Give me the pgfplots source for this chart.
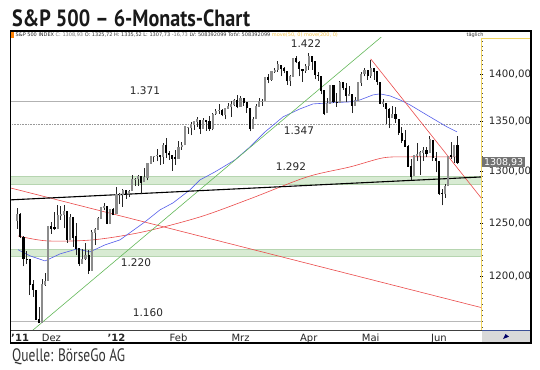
\documentclass[border=0pt]{standalone}
\usepackage{fontspec}
\setmainfont{DejaVu Sans}
\newfontfamily\ptsans{PT Sans}
\usepackage{graphicx}
\usepackage{pgfplots}
\usepackage{pgfplotstable}
\pgfplotsset{compat=1.18}

\definecolor{bandfill}{RGB}{216,235,211}
\definecolor{bandedge}{RGB}{182,213,176}
\definecolor{maBlue}{RGB}{85,95,235}
\definecolor{maRed}{RGB}{235,75,75}
\definecolor{trGreen}{RGB}{100,185,90}
\definecolor{yel}{RGB}{240,212,95}
\definecolor{upgray}{RGB}{140,140,140}
\definecolor{rowblue}{RGB}{60,80,150}

\pgfplotsset{
  wick/.style={black!85, line width=0.55pt},
  upbody/.style={upgray, line width=2.1pt, line cap=butt},
  dnbody/.style={black, line width=2.1pt, line cap=butt},
}

% trading-day index k: 0 = 25 Nov 2011
\pgfplotstableread{
k o h l c
-7 1251.70 1264.25 1244.34 1257.81
-6 1257.81 1259.61 1235.67 1236.91
-5 1236.56 1237.73 1209.43 1216.13
-4 1216.19 1223.51 1211.36 1215.65
-3 1215.62 1215.62 1183.16 1192.98
-2 1192.98 1196.81 1181.65 1188.04
-1 1187.48 1187.48 1161.79 1161.79
0 1161.41 1172.66 1158.66 1158.67
1 1158.67 1197.35 1158.67 1192.55
2 1192.56 1203.67 1191.80 1195.19
3 1196.72 1247.11 1196.72 1246.96
4 1246.91 1251.09 1239.73 1244.58
5 1246.03 1260.08 1243.35 1244.28
6 1244.33 1266.73 1244.33 1257.08
7 1257.19 1266.03 1253.03 1258.47
8 1258.14 1267.06 1244.80 1261.01
9 1260.87 1260.87 1231.47 1234.35
10 1234.48 1258.25 1234.48 1255.19
11 1255.05 1255.05 1227.25 1236.47
12 1236.83 1249.86 1219.43 1225.73
13 1225.73 1225.73 1209.47 1211.82
14 1212.12 1225.60 1212.12 1215.75
15 1216.09 1231.04 1215.20 1219.66
16 1219.74 1224.57 1202.37 1205.35
17 1205.72 1242.82 1205.72 1241.30
18 1241.25 1245.09 1229.51 1243.72
19 1243.72 1255.22 1243.72 1254.00
20 1254.00 1265.42 1254.00 1265.33
21 1265.02 1269.37 1262.30 1265.43
22 1265.38 1265.85 1248.64 1249.64
23 1249.75 1263.54 1249.75 1263.02
24 1262.82 1264.12 1257.46 1257.60
25 1258.86 1284.62 1258.86 1277.06
26 1277.03 1278.73 1268.10 1277.30
27 1277.30 1283.05 1265.26 1281.06
28 1280.93 1281.84 1273.34 1277.81
29 1277.83 1281.99 1274.55 1280.70
30 1280.77 1296.46 1280.77 1292.08
31 1292.02 1293.80 1285.41 1292.48
32 1292.48 1296.82 1285.77 1295.50
33 1294.82 1294.82 1277.58 1289.09
34 1290.22 1303.00 1290.22 1293.67
35 1293.65 1308.11 1290.99 1308.04
36 1308.07 1315.49 1308.07 1314.50
37 1314.49 1315.38 1309.17 1315.38
38 1315.29 1322.28 1309.89 1316.00
39 1315.96 1315.96 1306.06 1314.65
40 1314.40 1328.30 1307.65 1326.06
41 1326.28 1333.47 1313.60 1318.43
42 1318.25 1320.06 1311.72 1316.33
43 1316.16 1316.16 1300.49 1313.01
44 1313.53 1321.41 1306.69 1312.41
45 1312.45 1330.52 1312.45 1324.09
46 1324.24 1329.19 1321.57 1325.54
47 1326.21 1345.34 1326.21 1344.90
48 1344.32 1344.36 1337.52 1344.33
49 1344.33 1349.24 1335.92 1347.05
50 1347.04 1351.00 1341.95 1349.96
51 1349.97 1354.32 1344.63 1351.95
52 1351.21 1351.21 1337.35 1342.64
53 1343.06 1353.35 1343.06 1351.77
54 1351.30 1351.30 1340.83 1350.50
55 1350.52 1355.87 1340.80 1343.23
56 1342.61 1359.02 1341.22 1358.04
57 1358.06 1363.40 1357.24 1361.23
58 1361.22 1367.76 1358.11 1362.21
59 1362.11 1362.70 1355.53 1357.66
60 1357.53 1364.24 1352.28 1363.46
61 1363.46 1368.92 1363.46 1365.74
62 1365.20 1371.94 1354.92 1367.59
63 1367.56 1373.09 1365.97 1372.18
64 1372.20 1378.04 1363.81 1365.68
65 1365.90 1376.17 1365.90 1374.09
66 1374.09 1374.53 1366.42 1369.63
67 1369.59 1369.59 1359.13 1364.33
68 1363.63 1363.63 1340.03 1343.36
69 1343.39 1354.85 1343.39 1352.63
70 1352.65 1368.72 1352.65 1365.91
71 1365.97 1374.76 1365.97 1370.87
72 1370.78 1373.04 1366.69 1371.09
73 1371.92 1396.13 1371.92 1395.95
74 1395.95 1399.42 1389.97 1394.28
75 1394.17 1402.63 1392.78 1402.60
76 1402.55 1405.88 1401.47 1404.17
77 1404.17 1414.00 1402.43 1409.75
78 1409.59 1409.59 1397.68 1405.52
79 1405.52 1407.75 1400.64 1402.89
80 1402.89 1402.89 1388.73 1392.78
81 1392.78 1399.18 1386.87 1397.11
82 1397.11 1416.58 1397.11 1416.51
83 1416.55 1419.15 1411.95 1412.52
84 1412.52 1413.65 1397.20 1405.54
85 1405.39 1405.39 1391.56 1403.28
86 1403.31 1410.89 1401.42 1408.47
87 1408.47 1422.38 1404.46 1419.04
88 1418.98 1419.00 1404.62 1413.38
89 1413.09 1413.09 1394.09 1398.96
90 1398.79 1401.60 1392.92 1398.08
91 1397.45 1397.45 1378.24 1382.20
92 1382.18 1383.01 1357.38 1358.59
93 1358.98 1374.71 1358.98 1368.71
94 1368.77 1388.13 1368.77 1387.57
95 1387.61 1387.61 1369.85 1370.26
96 1370.27 1379.66 1365.38 1369.57
97 1369.57 1392.76 1369.57 1390.78
98 1390.78 1390.78 1383.29 1385.14
99 1385.08 1390.46 1370.30 1376.92
100 1376.96 1387.40 1376.96 1378.53
101 1378.53 1378.53 1358.79 1366.94
102 1366.97 1375.57 1366.82 1371.97
103 1372.11 1391.37 1372.11 1390.69
104 1390.64 1402.09 1387.28 1399.98
105 1400.19 1406.64 1397.31 1403.36
106 1403.26 1403.26 1394.00 1397.91
107 1397.86 1415.32 1395.73 1405.82
108 1405.50 1405.50 1393.92 1402.31
109 1402.32 1403.07 1388.71 1391.57
110 1391.51 1391.51 1367.96 1369.10
111 1368.79 1373.91 1365.36 1369.58
112 1369.16 1369.16 1347.75 1363.72
113 1363.20 1363.73 1343.13 1354.58
114 1354.58 1365.88 1354.58 1357.99
115 1358.11 1365.66 1348.89 1353.39
116 1351.93 1351.93 1336.61 1338.35
117 1338.36 1344.94 1328.41 1330.66
118 1330.78 1341.78 1324.79 1324.80
119 1324.82 1326.36 1304.86 1304.86
120 1305.05 1312.24 1291.98 1295.22
121 1295.73 1316.39 1295.73 1315.99
122 1316.09 1328.49 1310.04 1316.63
123 1316.02 1320.71 1296.53 1318.86
124 1318.72 1324.14 1310.50 1320.68
125 1320.64 1324.20 1314.23 1317.82
126 1318.90 1334.93 1318.90 1332.42
127 1331.25 1331.25 1310.76 1313.32
128 1313.09 1319.74 1298.90 1310.33
129 1309.87 1309.87 1277.25 1278.04
130 1278.29 1282.55 1266.74 1278.18
131 1277.82 1287.62 1274.16 1285.50
132 1285.61 1315.13 1285.61 1315.13
133 1316.15 1329.05 1312.68 1314.99
134 1314.99 1325.81 1307.77 1325.66
135 1325.72 1335.52 1307.73 1308.93
}\spx
\pgfplotstablegetrowsof{\spx}
\pgfmathtruncatemacro{\lastrow}{\pgfplotsretval-1}

\begin{document}
\begin{tikzpicture}[x=1pt,y=1pt]
\useasboundingbox (0pt,0pt) rectangle (540pt,369pt);
\fill[white] (0pt,0pt) rectangle (540pt,369pt);

\begin{axis}[
  at={(10.4pt,38.5pt)}, anchor=south west,
  scale only axis, width=471.3pt, height=292.5pt,
  ymode=log,
  xmin=-9.23, xmax=142.8, ymin=1151.9, ymax=1438.9,
  axis line style={draw=none},
  ytick={1200,1250,1300,1350,1400},
  yticklabels={{1200,00},{1250,00},{1300,00},{1350,00},{1400,00}},
  minor ytick={1155,1160,1165,1170,1175,1180,1185,1190,1195,1205,1210,1215,1220,1225,1230,1235,1240,1245,1255,1260,1265,1270,1275,1280,1285,1290,1295,1305,1310,1315,1320,1325,1330,1335,1340,1345,1355,1360,1365,1370,1375,1380,1385,1390,1395,1405,1410,1415,1420,1425,1430,1435},
  ytick pos=right, yticklabel pos=right,
  yticklabel style={anchor=west, inner sep=0pt, xshift=5.3pt, text=black!85, font=\fontsize{10.2}{10.2}\selectfont},
  tick align=center,
  major tick length=3.5pt, minor tick length=1.6pt,
  ytick style={black, line width=0.5pt},
  minor y tick style={black!70, line width=0.6pt},
  xtick={-6.1,4,25,45,65,87,107,129},
  xticklabels={\textbf{'11},Dez,\textbf{'12},Feb,Mrz,Apr,Mai,Jun},
  xticklabel style={anchor=base, inner sep=0pt, yshift=-9.8pt, text=black!85, font=\fontsize{10}{10}\selectfont},
  xtick style={draw=none},
  clip=true,
]
% support / resistance bands
\addplot[fill=bandfill, draw=bandedge, line width=0.6pt] coordinates {(-9.23,1287.7) (142.8,1287.7) (142.8,1294.8) (-9.23,1294.8)} -- cycle;
\addplot[fill=bandfill, draw=bandedge, line width=0.6pt] coordinates {(-9.23,1219.1) (142.8,1219.1) (142.8,1224.8) (-9.23,1224.8)} -- cycle;
% horizontal marks
\addplot[black!30, line width=0.6pt] coordinates {(-9.23,1371) (142.8,1371)};
\addplot[black!40, line width=0.6pt, densely dotted] coordinates {(-9.23,1347) (142.8,1347)};
\addplot[black!28, line width=0.6pt] coordinates {(-9.23,1160) (142.8,1160)};

% 200-day moving average
\addplot[maRed, line width=0.6pt, smooth] coordinates {
(-6.77,1237.7) (2.58,1233.0) (17.42,1234.0) (33.55,1241.5) (51.94,1255.7) (68.06,1273.1) (86.45,1294.5) (100.32,1304.4) (110.97,1313.4) (118.71,1314.4) (127.1,1314.4) (134.84,1314.4)};
% 50-day moving average
\addplot[maBlue, line width=0.6pt] coordinates {
(-6.77,1224.8) (-2.90,1219.1) (1.94,1214.4) (6.77,1220.9) (12.26,1225.5) (16.45,1222.8) (21.29,1229.3) (26.13,1234.0) (34.19,1251.0) (39.03,1262.5) (43.23,1269.2) (48.71,1281.8) (51.94,1291.6) (56.77,1299.5) (63.23,1311.4) (68.06,1324.4) (72.90,1339.6) (78.71,1355.0) (84.19,1363.2) (88.39,1368.4) (93.87,1369.5) (100.32,1370.5) (103.55,1372.6) (107.74,1377.8) (110.0,1378.9) (113.23,1376.8) (116.45,1372.6) (119.68,1367.4) (126.13,1355.0) (131.61,1344.7) (134.84,1339.6)};

% trend lines
\addplot[trGreen, line width=0.6pt] coordinates {(-2.26,1151.5) (111.2,1442.1)};
\addplot[maRed, line width=0.6pt] coordinates {(-9.23,1283.7) (142.8,1172.0)};
\addplot[maRed, line width=0.6pt] coordinates {(107,1416) (142.8,1273.3)};
\addplot[black, line width=1.1pt] coordinates {(-9.23,1272.1) (142.8,1294.5)};

% candles, one per table row
\pgfplotsforeachungrouped \i in {0,...,\lastrow}{%
  \pgfplotstablegetelem{\i}{k}\of{\spx}\let\ck\pgfplotsretval
  \pgfplotstablegetelem{\i}{o}\of{\spx}\let\co\pgfplotsretval
  \pgfplotstablegetelem{\i}{h}\of{\spx}\let\ch\pgfplotsretval
  \pgfplotstablegetelem{\i}{l}\of{\spx}\let\cl\pgfplotsretval
  \pgfplotstablegetelem{\i}{c}\of{\spx}\let\cc\pgfplotsretval
  \pgfmathsetmacro\btop{max(\co,\cc)+0.35}%
  \pgfmathsetmacro\bbot{min(\co,\cc)-0.35}%
  \ifdim\cc pt<\co pt \def\bstyle{dnbody}\else\def\bstyle{upbody}\fi
  \edef\tmp{\noexpand\addplot[wick] coordinates {(\ck,\cl) (\ck,\ch)};
    \noexpand\addplot[\bstyle] coordinates {(\ck,\bbot) (\ck,\btop)};}%
  \tmp
}

\coordinate (lastc) at (axis cs:142.8,1308.93);
\end{axis}

% level labels
\begin{scope}[every node/.style={inner sep=0pt, text=black!85, font=\fontsize{10.5}{10.5}\selectfont}]
\node at (306pt,325.3pt) {1.422};
\node at (145pt,278pt) {1.371};
\node at (299pt,238pt) {1.347};
\node at (291pt,202.5pt) {1.292};
\node at (136pt,106pt) {1.220};
\node at (148pt,56.5pt) {1.160};
\end{scope}

% frame and axes decoration
\draw[yel, line width=0.7pt] (481.7pt,38.5pt) -- (481.7pt,331pt) -- (531pt,331pt);
\draw[black!75, line width=0.8pt] (10.4pt,38.5pt) -- (481.7pt,38.5pt);
\draw[rowblue, line width=0.8pt] (481.7pt,38.5pt) -- (531pt,38.5pt);
\fill[black!15] (482.1pt,26.4pt) rectangle (530.2pt,38.1pt);
\fill[blue!40!black] (503pt,30pt) -- (509pt,32.3pt) -- (505.5pt,35pt) -- cycle;
\draw[black, line width=1.6pt] (10.4pt,26pt) rectangle (531pt,338pt);

% current price box
\node[anchor=west, fill=black!55, text=white, inner xsep=1.6pt, inner ysep=0.6pt, minimum height=10pt, font=\fontsize{9.5}{9.5}\selectfont] at ([xshift=0.5pt]lastc) {1308,93};

% header line
\fill[orange] (11.2pt,330.5pt) rectangle (14pt,337pt);
\node[anchor=base west, inner sep=0pt, font=\fontsize{5}{5}\selectfont] at (15.5pt,332pt) {\textcolor{black!85}{S\&P 500 INDEX} \textcolor{black!55}{C: 1308,93} \textcolor{black!80}{O: 1325,72 H: 1335,52 L: 1307,73} \textcolor{black!55}{-16,73} \textcolor{black!80}{LV: 508392099 TotV: 508392099} \textcolor{yel!80!orange}{move(50, 0) move(200, 0)}};
\node[anchor=base, inner sep=0pt, font=\fontsize{5}{5}\selectfont, text=black!80] at (475pt,332pt) {täglich};

% title and source
\node[anchor=base west, inner sep=0pt, text=black!90] at (12pt,342.3pt) {\resizebox{238pt}{\height}{\ptsans\bfseries\fontsize{23.5}{23.5}\selectfont S\&P 500 – 6-Monats-Chart}};
\node[anchor=base west, inner sep=0pt, text=black!80] at (12pt,8pt) {\resizebox{113pt}{\height}{\ptsans\fontsize{18}{18}\selectfont Quelle: BörseGo AG}};
\end{tikzpicture}
\end{document}
